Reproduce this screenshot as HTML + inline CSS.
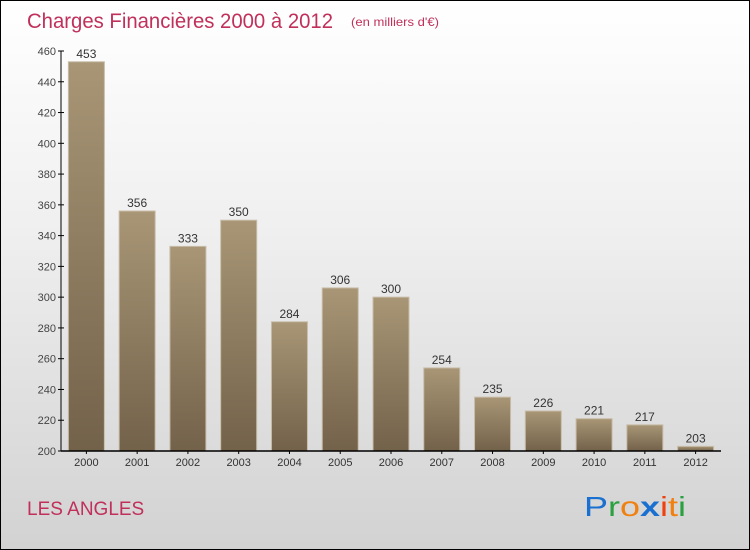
<!DOCTYPE html>
<html><head><meta charset="utf-8"><style>
body{margin:0}
#c{position:relative;width:748px;height:548px;border:1px solid #000;background:linear-gradient(#ffffff,#f0f0f0 40%,#d2d2d2);font-family:"Liberation Sans",sans-serif;overflow:hidden}
</style></head><body>
<div id="c">
<svg id="s" width="748" height="548" xmlns="http://www.w3.org/2000/svg">
<defs><linearGradient id="bg" x1="0" y1="0" x2="0" y2="1"><stop offset="0" stop-color="#a89676"/><stop offset="1" stop-color="#73624a"/></linearGradient></defs>
<text x="26" y="27" font-size="21" fill="#c0305a" textLength="306" lengthAdjust="spacingAndGlyphs">Charges Financières 2000 à 2012</text>
<text x="350" y="25" font-size="12" fill="#c0305a" textLength="88" lengthAdjust="spacingAndGlyphs">(en milliers d'€)</text>
<text x="26" y="514" font-size="19" fill="#c0305a">LES ANGLES</text>
<g font-size="28" font-family="Liberation Sans,sans-serif">
<text x="583" y="515" textLength="102" lengthAdjust="spacingAndGlyphs"><tspan fill="#1a70d0">P</tspan><tspan fill="#2aa040">r</tspan><tspan fill="#f08010">o</tspan><tspan fill="#1a70d0" font-weight="bold">x</tspan><tspan fill="#f04010">i</tspan><tspan fill="#f08010">t</tspan><tspan fill="#2aa040">i</tspan></text></g>
<g id="g"></g>
</svg></div>
<script>
const years=["2000","2001","2002","2003","2004","2005","2006","2007","2008","2009","2010","2011","2012"];
const values=[453,356,333,350,284,306,300,254,235,226,221,217,203];
const yTicks=[200,220,240,260,280,300,320,340,360,380,400,420,440,460];
const NS="http://www.w3.org/2000/svg";
const g=document.getElementById('g');
const x0=60,x1=720,yb=450,yt=50,ymin=200,ymax=460;
const band=(x1-x0)/years.length;
function y(v){return yb-(v-ymin)/(ymax-ymin)*(yb-yt);}
function xc(i){return x0+band*(i+0.5);}
function el(t,a,txt){const e=document.createElementNS(NS,t);for(const k in a)e.setAttribute(k,a[k]);if(txt!==undefined)e.textContent=txt;g.appendChild(e);return e;}
let a=el('line',{x1:x0,x2:x0,y1:yt,y2:yb,stroke:'#000'});


yTicks.forEach(v=>{
 let t=el('line',{x1:x0-3,x2:x0+3,y1:y(v),y2:y(v),stroke:'#000'});
 
 
 let l=el('text',{x:x0-5,y:y(v)+4,'font-size':11,fill:'#444','text-anchor':'end'},v);
 
 
});
values.forEach((v,i)=>{
 const w=36,cx=xc(i);
 let r=el('rect',{x:cx-w/2,y:y(v),width:w,height:yb-y(v),fill:'url(#bg)',stroke:'#c8bca8','stroke-width':1});
 
 
 let t=el('text',{x:cx,y:y(v)-4,'font-size':12,fill:'#333','text-anchor':'middle'},v);
 
 
 let xl=el('text',{x:cx,y:yb+15,'font-size':11,fill:'#333','text-anchor':'middle'},years[i]);
 
 
 let xt=el('line',{x1:cx,x2:cx,y1:yb,y2:yb+3,stroke:'#000'});
 
 
});
let xa=el('line',{x1:x0,x2:x1,y1:yb,y2:yb,stroke:'#000','stroke-width':1.5});


</script>
</body></html>
